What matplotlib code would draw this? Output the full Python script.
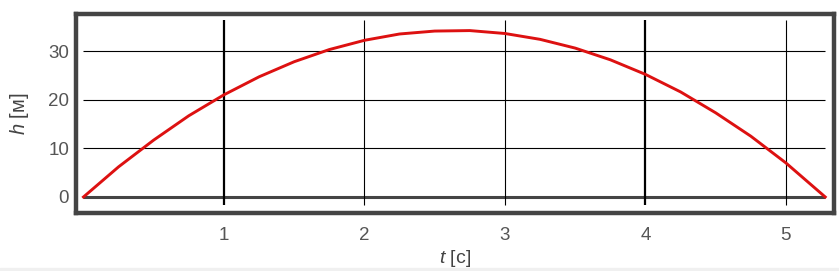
import numpy as np
import matplotlib.pyplot as plt
from matplotlib.patches import Rectangle

# flight time t [s] and height h [m]
t = [0, 0.25, 0.5, 0.75, 1.0, 1.25, 1.5, 1.75, 2.0, 2.25, 2.5, 2.75,
     3.0, 3.25, 3.5, 3.75, 4.0, 4.25, 4.5, 4.75, 5.0, 5.28]
h = [0, 6.2, 11.7, 16.7, 21.0, 24.7, 27.8, 30.3, 32.2, 33.5, 34.1, 34.2,
     33.6, 32.4, 30.6, 28.2, 25.2, 21.6, 17.3, 12.5, 7.0, 0]
xticks = [1, 2, 3, 4, 5]
yticks = [0, 10, 20, 30]
thick_x = [1, 4]

plt.rcParams['font.family'] = ['Liberation Sans', 'DejaVu Sans']
plt.rcParams['mathtext.fontset'] = 'custom'
plt.rcParams['mathtext.it'] = 'Liberation Sans:italic'
plt.rcParams['mathtext.rm'] = 'Liberation Sans'

fig = plt.figure(figsize=(8.39, 2.71), dpi=100)
fig.patches.append(Rectangle((0, 0), 1, 0.012, transform=fig.transFigure,
                             color='#f0f0f0', zorder=0))
ax = fig.add_axes([0.0906, 0.214, 0.9034, 0.736])
ax.set_xlim(-0.053, 5.342)
ax.set_ylim(-3.29, 37.7)

# grid
for y in yticks[1:]:
    ax.hlines(y, 0, t[-1], color='black', lw=0.8, zorder=1)
ax.hlines(0, 0, t[-1], color='#444444', lw=2.2, zorder=1)
for x in xticks:
    ax.vlines(x, -1.6, 36.3, color='black', lw=1.6 if x in thick_x else 0.8, zorder=1)

ax.plot(t, h, color='#dd1111', lw=2.1, zorder=3)

for s in ax.spines.values():
    s.set_color('#444444')
    s.set_linewidth(3.2)

ax.set_xticks(xticks)
ax.set_yticks(yticks)
ax.tick_params(length=0, labelsize=13.5, labelcolor='#555555')
ax.tick_params(axis='x', pad=10)
ax.tick_params(axis='y', pad=5)

ax.set_xlabel('$t$ [с]', fontsize=14, color='#444444', va='center')
ax.set_ylabel('$h$ [м]', fontsize=14.5, color='#444444', va='center')
ax.xaxis.set_label_coords(0.5, -0.226)
ax.yaxis.set_label_coords(-0.074, 0.5)

fig.savefig('out.png', dpi=100)
